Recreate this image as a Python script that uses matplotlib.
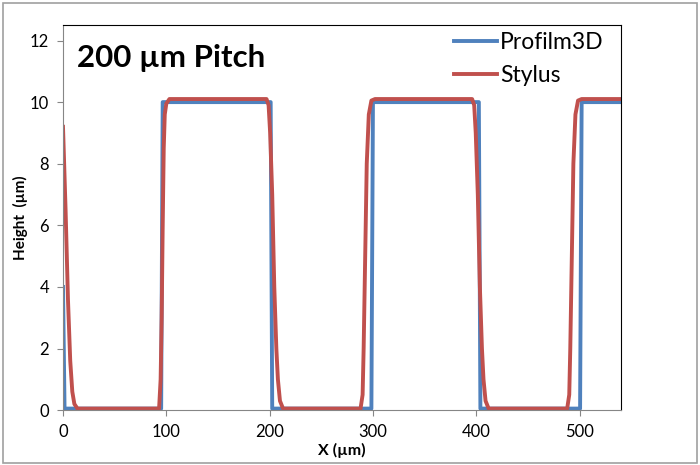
import matplotlib
matplotlib.use("Agg")
import matplotlib.pyplot as plt
from matplotlib.patches import Rectangle

plt.rcParams["font.family"] = ["Lato", "DejaVu Sans"]

# Profilm3D profile
profilm_x = [0, 1.5, 95, 96.5, 201, 202.5, 298.5, 300, 402.5, 404, 500.5, 502, 540]
profilm_y = [4.0, 0.05, 0.05, 10.0, 10.0, 0.05, 0.05, 10.0, 10.0, 0.05, 0.05, 10.0, 10.0]

# Stylus profile
stylus_x = [0, 2.5, 4.8, 7, 9, 11, 14,
            93, 94.5, 95.5, 96.5, 97.5, 98.5, 100, 103,
            197, 199, 200.5, 202.5, 204.5, 206.5, 208, 210, 213,
            288, 290, 291, 292.5, 294, 296, 298.5, 302,
            396, 398, 399.5, 401.5, 403.5, 405.5, 407, 409, 412,
            488, 490, 491, 492.5, 494, 496, 498.5, 502, 540]
stylus_y = [9.2, 6.5, 3.6, 1.6, 0.6, 0.2, 0.05,
            0.05, 1.0, 3.0, 6.0, 8.5, 9.6, 9.95, 10.1,
            10.1, 9.9, 9.0, 7.0, 4.0, 2.0, 1.0, 0.3, 0.05,
            0.05, 0.5, 2.0, 5.0, 8.0, 9.6, 10.05, 10.1,
            10.1, 9.9, 9.0, 7.0, 4.0, 2.0, 1.0, 0.3, 0.05,
            0.05, 0.5, 2.0, 5.0, 8.0, 9.6, 10.05, 10.1, 10.1]

x_ticks = [0, 100, 200, 300, 400, 500]
y_ticks = [0, 2, 4, 6, 8, 10, 12]

fig = plt.figure(figsize=(7, 4.65), dpi=100)
ax = fig.add_axes([0.09, 0.118, 0.797, 0.828])

ax.plot(profilm_x, profilm_y, color="#4F81BD", lw=2.8, label="Profilm3D")
ax.plot(stylus_x, stylus_y, color="#C0504D", lw=2.8, label="Stylus")

ax.set_xlim(0, 540)
ax.set_ylim(0, 12.5)
ax.set_xticks(x_ticks)
ax.set_yticks(y_ticks)

grey = "#868686"
for s in ["left", "bottom"]:
    ax.spines[s].set_color(grey)
for s in ["top", "right"]:
    ax.spines[s].set_color("black")
ax.tick_params(direction="out", length=4, color=grey, labelsize=12, pad=6)

ax.set_xlabel("X (µm)", fontweight="bold", fontsize=11.5)
ax.xaxis.set_label_coords(0.5, -0.085)
ax.set_ylabel("Height  (µm)", fontweight="bold", fontsize=11)
ax.yaxis.set_label_coords(-0.063, 0.5)

ax.text(0.025, 0.915, "200 µm Pitch", transform=ax.transAxes,
        fontsize=22.5, fontweight="bold", va="center", ha="left")

ax.legend(loc="upper right", frameon=False, fontsize=16.5, handlelength=1.9,
          handletextpad=0.1, labelspacing=0.5, borderaxespad=0.0,
          bbox_to_anchor=(0.985, 1.005))

fig.patches.append(Rectangle((0.004, 0.004), 0.991, 0.99, transform=fig.transFigure,
                             fill=False, edgecolor="#A0A0A0", lw=1.2))

fig.savefig("out.png", dpi=100)
